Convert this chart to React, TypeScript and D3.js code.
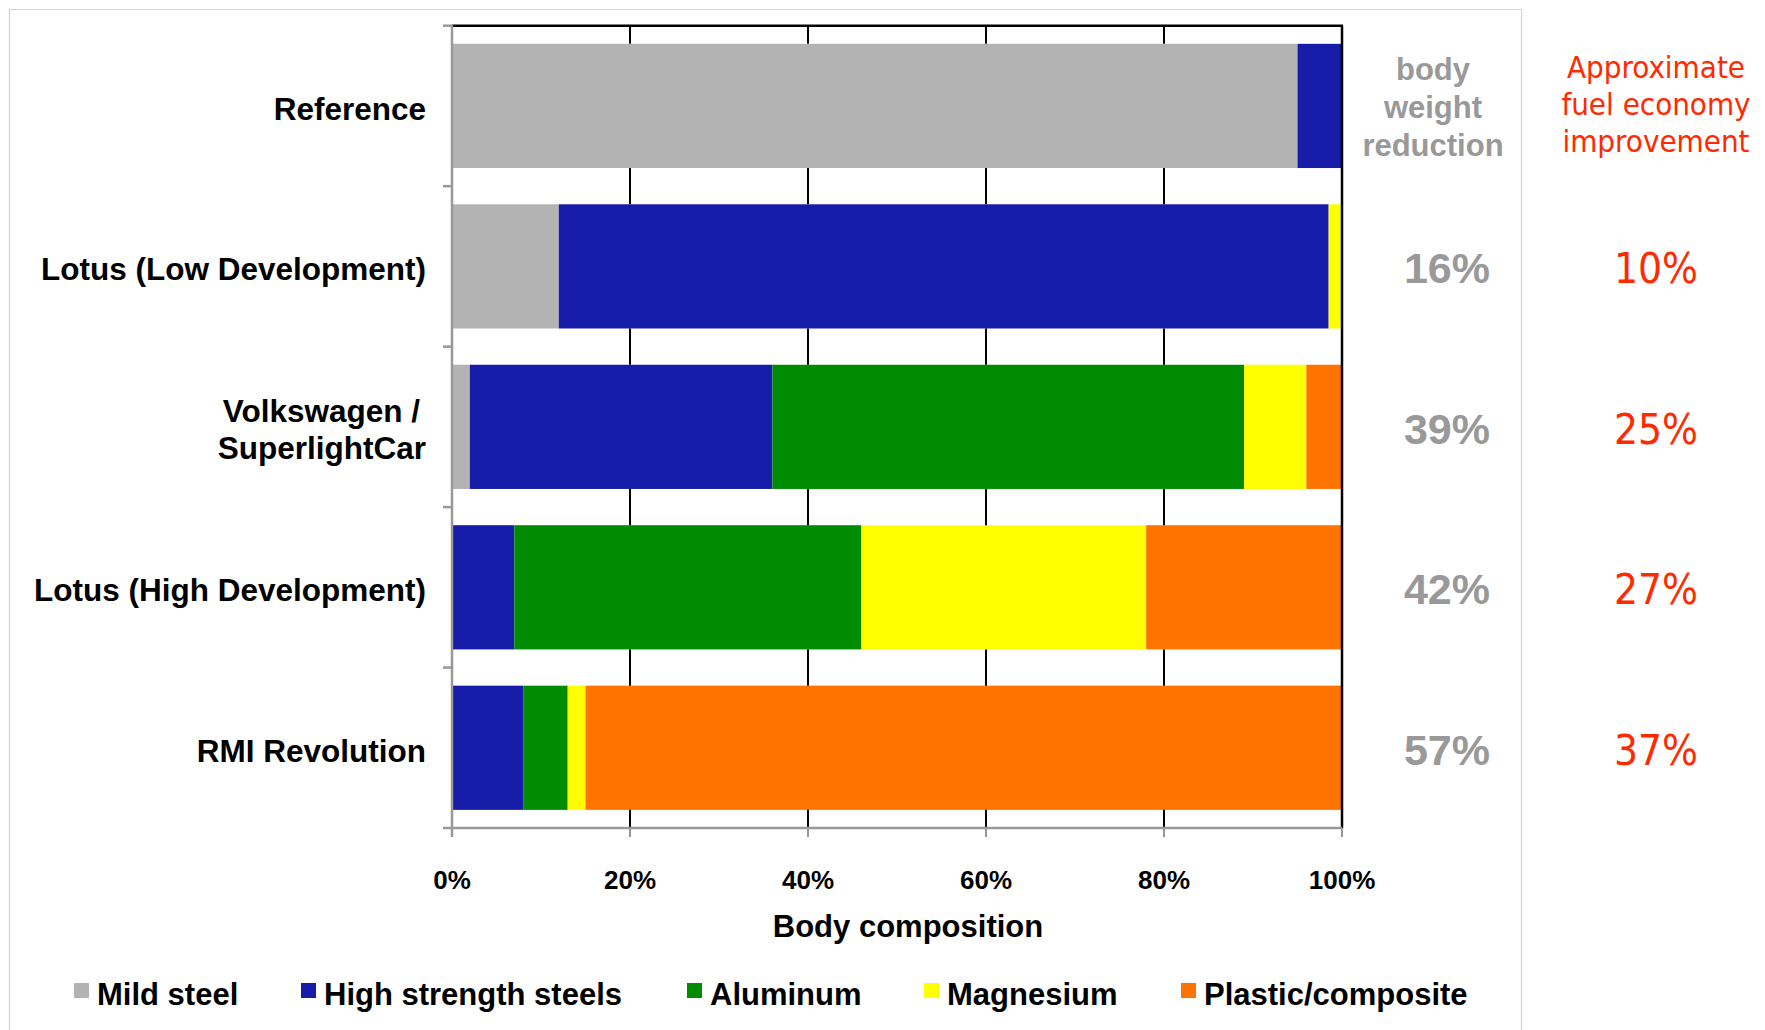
import React from "react";
import * as d3 from "d3";

const categories = [
  "Reference",
  "Lotus (Low Development)",
  "Volkswagen / SuperlightCar",
  "Lotus (High Development)",
  "RMI Revolution",
];
const categoryLines = [
  ["Reference"],
  ["Lotus (Low Development)"],
  ["Volkswagen /", "SuperlightCar"],
  ["Lotus (High Development)"],
  ["RMI Revolution"],
];
const materials = ["Mild steel", "High strength steels", "Aluminum", "Magnesium", "Plastic/composite"];
const materialColors = ["#b3b3b3", "#161ca8", "#008c00", "#ffff00", "#ff7300"];

const mildSteel = [95, 12, 2, 0, 0];
const highStrengthSteels = [5, 86.5, 34, 7, 8];
const aluminum = [0, 0, 53, 39, 5];
const magnesium = [0, 1.5, 7, 32, 2];
const plasticComposite = [0, 0, 4, 22, 85];

const weightReduction = ["", "16%", "39%", "42%", "57%"];
const fuelEconomy = ["", "10%", "25%", "27%", "37%"];
const weightHeader = ["body", "weight", "reduction"];
const fuelHeader = ["Approximate", "fuel economy", "improvement"];
const xTicks = [0, 20, 40, 60, 80, 100];
const xTitle = "Body composition";

const W = 1765;
const H = 1030;
const BOLD = "'Liberation Sans', Arial, sans-serif";
const TAHOMA = "'DejaVu Sans Condensed', 'DejaVu Sans', sans-serif";
const RED = "#ff2a00";

export default function App() {
  const yTop = 25.7;
  const yBot = 828;
  const x = d3.scaleLinear().domain([0, 100]).range([452, 1342]);
  const y = d3.scaleBand<string>().domain(categories).range([yTop, yBot]).paddingInner(0.226).paddingOuter(0.113);

  const rows = categories.map((c, i) => ({
    cat: c,
    "Mild steel": mildSteel[i],
    "High strength steels": highStrengthSteels[i],
    Aluminum: aluminum[i],
    Magnesium: magnesium[i],
    "Plastic/composite": plasticComposite[i],
  }));
  const stack = d3.stack<any>().keys(materials);
  const series = stack(rows);
  const color = d3.scaleOrdinal<string, string>().domain(materials).range(materialColors);

  const step = y.step();
  const boundaries = d3.range(categories.length + 1).map((i) => yTop + i * step);
  const [x0, x1] = x.range();
  const legendX = [74, 301, 687, 924, 1181];

  return (
    <svg width={W} height={H} style={{ position: "absolute", left: 0, top: 0, background: "#fff" }}>
      <rect x={0} y={0} width={W} height={H} fill="#fff" />
      {/* outer frame */}
      <path d={`M9.5,${H + 5} V9.5 H1521.5 V${H + 5}`} fill="none" stroke="#d4d4d4" strokeWidth={1.2} />

      {/* bars */}
      {series.map((s) => (
        <g key={s.key} fill={color(s.key)}>
          {s.map((d, i) =>
            d[1] - d[0] > 0 ? (
              <rect key={i} x={x(d[0])} y={y(categories[i])} width={x(d[1]) - x(d[0])} height={y.bandwidth()} />
            ) : null
          )}
        </g>
      ))}

      {/* gridlines (only visible in gaps between bars) */}
      {xTicks.slice(1).map((t) => (
        <g key={t}>
          <line x1={x(t)} x2={x(t)} y1={yTop} y2={y(categories[0])} stroke="#000" strokeWidth={2} />
          {categories.map((c, i) => (
            <line
              key={i}
              x1={x(t)}
              x2={x(t)}
              y1={(y(c) as number) + y.bandwidth()}
              y2={i < categories.length - 1 ? (y(categories[i + 1]) as number) : yBot}
              stroke="#000"
              strokeWidth={2}
            />
          ))}
        </g>
      ))}
      <line x1={x(100)} x2={x(100)} y1={yTop} y2={yBot} stroke="#000" strokeWidth={2.5} />
      <line x1={x0} x2={x1 + 1} y1={yTop} y2={yTop} stroke="#000" strokeWidth={2.5} />

      {/* y axis */}
      <line x1={x0} x2={x0} y1={yTop - 1} y2={yBot + 9} stroke="#999" strokeWidth={2.5} />
      {boundaries.map((b, i) => (
        <line key={i} x1={443} x2={x0} y1={b} y2={b} stroke="#999" strokeWidth={2.5} />
      ))}
      {/* x axis */}
      <line x1={x0} x2={x1} y1={yBot} y2={yBot} stroke="#999" strokeWidth={2.5} />
      {xTicks.map((t) => (
        <line key={t} x1={x(t)} x2={x(t)} y1={yBot} y2={yBot + 9} stroke="#999" strokeWidth={2} />
      ))}
      {xTicks.map((t) => (
        <text key={t} x={x(t)} y={889} textAnchor="middle" fontFamily={BOLD} fontWeight="bold" fontSize={26} fill="#000">
          {t + "%"}
        </text>
      ))}
      <text x={908} y={937} textAnchor="middle" fontFamily={BOLD} fontWeight="bold" fontSize={31} fill="#000">
        {xTitle}
      </text>

      {/* category labels */}
      {categoryLines.map((lines, i) => {
        const cy = (y(categories[i]) as number) + y.bandwidth() / 2;
        const lh = 37;
        return lines.map((ln, j) => (
          <text
            key={i + "-" + j}
            x={ln.endsWith("/") ? 420 : 426}
            y={cy + 14 + (j - (lines.length - 1) / 2) * lh}
            textAnchor="end"
            fontFamily={BOLD}
            fontWeight="bold"
            fontSize={31.5}
            fill="#000"
          >
            {ln}
          </text>
        ));
      })}

      {/* right columns */}
      {weightHeader.map((t, j) => (
        <text key={t} x={1433} y={80 + j * 38} textAnchor="middle" fontFamily={BOLD} fontWeight="bold" fontSize={31} fill="#999">
          {t}
        </text>
      ))}
      {fuelHeader.map((t, j) => (
        <text key={t} x={1656} y={78 + j * 37} textAnchor="middle" fontFamily={TAHOMA} fontSize={31} fill={RED}>
          {t}
        </text>
      ))}
      {weightReduction.map((t, i) =>
        t ? (
          <text
            key={i}
            x={1447}
            y={(y(categories[i]) as number) + y.bandwidth() / 2 + 17}
            textAnchor="middle"
            fontFamily={BOLD}
            fontWeight="bold"
            fontSize={43}
            fill="#999"
          >
            {t}
          </text>
        ) : null
      )}
      {fuelEconomy.map((t, i) =>
        t ? (
          <text
            key={i}
            x={1656}
            y={(y(categories[i]) as number) + y.bandwidth() / 2 + 17}
            textAnchor="middle"
            fontFamily={TAHOMA}
            fontSize={42}
            fill={RED}
          >
            {t}
          </text>
        ) : null
      )}

      {/* legend */}
      {materials.map((m, i) => (
        <g key={m}>
          <rect x={legendX[i]} y={983} width={15} height={15} fill={materialColors[i]} />
          <text x={legendX[i] + 23} y={1005} fontFamily={BOLD} fontWeight="bold" fontSize={31} fill="#000">
            {m}
          </text>
        </g>
      ))}
    </svg>
  );
}
